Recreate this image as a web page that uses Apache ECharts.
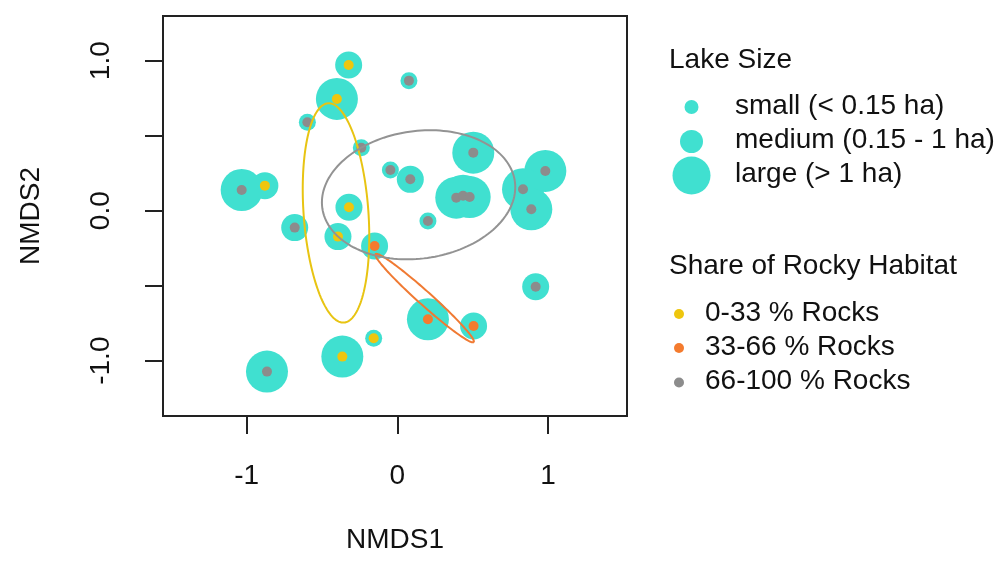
<!DOCTYPE html>
<html>
<head>
<meta charset="utf-8">
<script src="https://cdn.jsdelivr.net/npm/echarts@6/dist/echarts.min.js"></script>
<style>
  html, body { margin: 0; padding: 0; background: #ffffff; }
  #chart { width: 1005px; height: 566px; }
</style>
</head>
<body>
<div id="chart"></div>
<script>
// NMDS site scores of the lakes
const nmds1 = [-0.323, 0.077, -0.401, -0.597, -0.239, 0.504, -0.046, 0.086, -1.033, -0.879,
               0.982, 0.834, 0.889, 0.391, 0.436, 0.480, -0.321, 0.203, -0.681, -0.394,
               -0.151, 0.918, 0.203, 0.506, -0.157, -0.365, -0.865];
const nmds2 = [0.971, 0.867, 0.745, 0.589, 0.420, 0.387, 0.271, 0.209, 0.138, 0.167,
               0.265, 0.143, 0.009, 0.087, 0.100, 0.091, 0.023, -0.069, -0.113, -0.173,
               -0.235, -0.507, -0.724, -0.769, -0.851, -0.973, -1.073];
const lakeSize = ['medium', 'small', 'large', 'small', 'small', 'large', 'small', 'medium', 'large', 'medium',
                  'large', 'large', 'large', 'large', 'large', 'large', 'medium', 'small', 'medium', 'medium',
                  'medium', 'medium', 'large', 'medium', 'small', 'large', 'large'];
const rockShare = ['0-33', '66-100', '0-33', '66-100', '66-100', '66-100', '66-100', '66-100', '66-100', '0-33',
                   '66-100', '66-100', '66-100', '66-100', '66-100', '66-100', '0-33', '66-100', '66-100', '0-33',
                   '33-66', '66-100', '33-66', '33-66', '0-33', '0-33', '66-100'];

// Classes and their legend labels
const sizeClasses = ['small', 'medium', 'large'];
const sizeLabels = ['small (< 0.15 ha)', 'medium (0.15 - 1 ha)', 'large (> 1 ha)'];
const rockClasses = ['0-33', '33-66', '66-100'];
const rockLabels = ['0-33 % Rocks', '33-66 % Rocks', '66-100 % Rocks'];

// Dispersion ellipses per rock class: centre, semi-axes, rotation (degrees)
const ellipseCx = [-0.407, 0.181, 0.141];
const ellipseCy = [-0.015, -0.583, 0.106];
const ellipseA = [0.733, 0.438, 0.645];
const ellipseB = [0.215, 0.045, 0.425];
const ellipseAngle = [94.1, -42.0, 8.0];

// Axis ticks
const xTicks = [-1, 0, 1];
const yTicks = [-1, -0.5, 0, 0.5, 1];
const yTickLabels = [-1, 0, 1];

// ---- styling ----
const FONT = 'Liberation Sans, Arial, sans-serif';
const TXT = '#111111';
const CYAN = '#40E0D0';
const rockColors = ['#EEC60E', '#F47B2E', '#8C8C8C'];
const ellipseColors = ['#E8C412', '#F07A33', '#939393'];
const sizeSymbol = { small: 17, medium: 27, large: 42 };
const DOT = 10;

function pointsWhere(key, arr) {
  const out = [];
  for (let i = 0; i < nmds1.length; i++) if (arr[i] === key) out.push([nmds1[i], nmds2[i]]);
  return out;
}

const series = [];
sizeClasses.forEach(function (s) {
  series.push({
    name: s, type: 'scatter', data: pointsWhere(s, lakeSize),
    symbol: 'circle', symbolSize: sizeSymbol[s],
    itemStyle: { color: CYAN, opacity: 1 }, silent: true, z: 2
  });
});
rockClasses.forEach(function (r, k) {
  series.push({
    name: r, type: 'scatter', data: pointsWhere(r, rockShare),
    symbol: 'circle', symbolSize: DOT,
    itemStyle: { color: rockColors[k], opacity: 1 }, silent: true, z: 3
  });
});
series.push({
  type: 'custom', z: 4, silent: true,
  data: ellipseCx.map(function (c, i) { return [c, ellipseCy[i], ellipseA[i], ellipseB[i], ellipseAngle[i]]; }),
  encode: { x: 0, y: 1 },
  renderItem: function (params, api) {
    const cx = api.value(0), cy = api.value(1), a = api.value(2), b = api.value(3);
    const ang = api.value(4) * Math.PI / 180;
    const pts = [];
    const n = 160;
    for (let i = 0; i <= n; i++) {
      const t = i / n * 2 * Math.PI;
      const ex = a * Math.cos(t), ey = b * Math.sin(t);
      pts.push(api.coord([cx + ex * Math.cos(ang) - ey * Math.sin(ang),
                          cy + ex * Math.sin(ang) + ey * Math.cos(ang)]));
    }
    return {
      type: 'polyline', shape: { points: pts },
      style: { fill: null, stroke: ellipseColors[params.dataIndex], lineWidth: 2 }
    };
  }
});

// Legends drawn as graphic elements
const graphic = [];
function addText(x, y, text) {
  graphic.push({ type: 'text', left: x, top: y - 15, style: { text: text, font: '28px ' + FONT, fill: TXT } });
}
addText(669, 61, 'Lake Size');
const sizeLegendY = [107, 141.5, 175.5];
const sizeLegendR = [7, 11.5, 19];
sizeClasses.forEach(function (s, i) {
  graphic.push({ type: 'circle', shape: { cx: 691.5, cy: sizeLegendY[i], r: sizeLegendR[i] }, style: { fill: CYAN } });
  addText(735, sizeLegendY[i], sizeLabels[i]);
});
addText(669, 267, 'Share of Rocky Habitat');
const rockLegendY = [314, 348, 382.5];
rockClasses.forEach(function (r, i) {
  graphic.push({ type: 'circle', shape: { cx: 679, cy: rockLegendY[i], r: 5 }, style: { fill: rockColors[i] } });
  addText(705, rockLegendY[i], rockLabels[i]);
});

const chart = echarts.init(document.getElementById('chart'), null, { renderer: 'canvas' });
chart.setOption({
  animation: false,
  backgroundColor: '#ffffff',
  grid: { left: 163, top: 16, width: 464, height: 400, show: true, borderColor: '#222222', borderWidth: 2, backgroundColor: 'transparent' },
  xAxis: {
    type: 'value', min: -1.555, max: 1.524,
    name: 'NMDS1', nameLocation: 'middle', nameGap: 110,
    nameTextStyle: { fontFamily: FONT, fontSize: 28, color: TXT },
    axisLine: { show: false, onZero: false },
    axisTick: { show: true, length: 18, customValues: xTicks, lineStyle: { color: '#222222', width: 2 } },
    axisLabel: { show: true, customValues: xTicks, margin: 46, fontFamily: FONT, fontSize: 28, color: TXT },
    splitLine: { show: false }
  },
  yAxis: {
    type: 'value', min: -1.369, max: 1.298,
    name: 'NMDS2', nameLocation: 'middle', nameGap: 118, nameRotate: 90,
    nameTextStyle: { fontFamily: FONT, fontSize: 28, color: TXT },
    axisLine: { show: false, onZero: false },
    axisTick: { show: true, length: 18, customValues: yTicks, lineStyle: { color: '#222222', width: 2 } },
    axisLabel: {
      show: true, customValues: yTickLabels, rotate: 90, margin: 62, align: 'center', verticalAlign: 'middle',
      fontFamily: FONT, fontSize: 28, color: TXT,
      formatter: function (v) { return Number(v).toFixed(1); }
    },
    splitLine: { show: false }
  },
  graphic: graphic,
  series: series
});
</script>
</body>
</html>
